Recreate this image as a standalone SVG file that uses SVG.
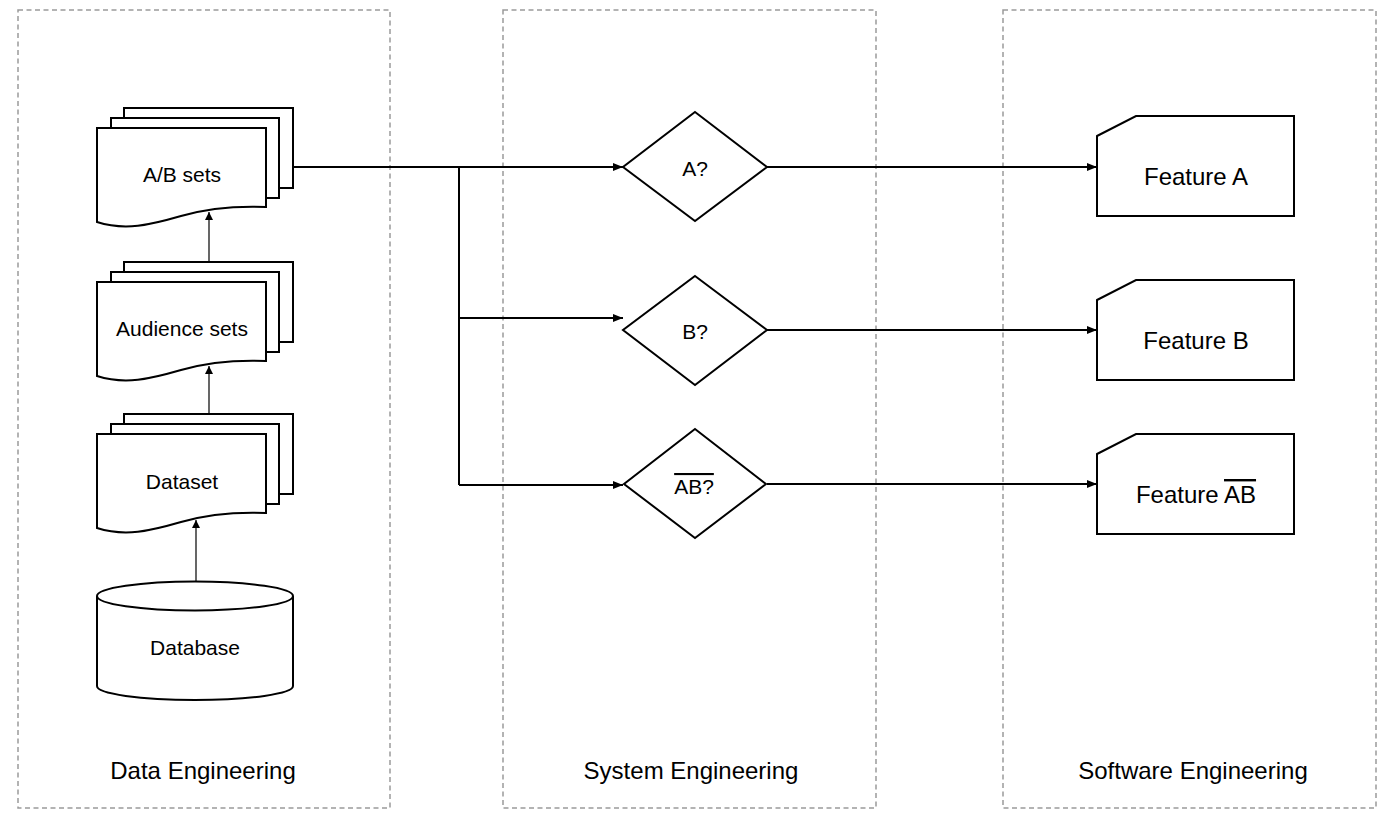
<svg xmlns="http://www.w3.org/2000/svg" width="1400" height="818" viewBox="0 0 1400 818">
<style>
.lane{fill:none;stroke:#9a9a9a;stroke-width:1.5;stroke-dasharray:5 3.5}
.shape{fill:#fff;stroke:#000;stroke-width:2}
.lbl{font-family:"Liberation Sans",Arial,sans-serif;font-size:21px;fill:#000;text-anchor:middle}
.big{font-size:24px}
.conn{fill:none;stroke:#000;stroke-width:2}
.thin{fill:none;stroke:#000;stroke-width:1.2}
.ov{text-decoration:overline}
</style>
<defs>
<marker id="ah" viewBox="0 0 10 8" refX="10" refY="4" markerWidth="10" markerHeight="8" markerUnits="userSpaceOnUse" orient="auto">
<path d="M0,0 L10,4 L0,8 Z" fill="#000"/>
</marker>
<marker id="ahs" viewBox="0 0 8 8" refX="8" refY="4" markerWidth="8" markerHeight="8" markerUnits="userSpaceOnUse" orient="auto">
<path d="M0,0 L8,4 L0,8 Z" fill="#000"/>
</marker>
</defs>
<rect width="1400" height="818" fill="#fff"/>

<g id="lanes">
<g id="lane-data"><rect class="lane" x="18" y="10" width="372" height="798"/><text class="lbl big" x="203" y="779">Data Engineering</text></g>
<g id="lane-system"><rect class="lane" x="503" y="10" width="373" height="798"/><text class="lbl big" x="691" y="779">System Engineering</text></g>
<g id="lane-software"><rect class="lane" x="1003" y="10" width="373" height="798"/><text class="lbl big" x="1193" y="779">Software Engineering</text></g>
</g>

<g id="connectors">
<path class="conn" d="M293,167 H459 V485"/>
<path class="conn" marker-end="url(#ah)" d="M459,167 H623"/>
<path class="conn" marker-end="url(#ah)" d="M459,318 H623"/>
<path class="conn" marker-end="url(#ah)" d="M459,485 H623"/>
<path class="conn" marker-end="url(#ah)" d="M767,167 H1097"/>
<path class="conn" marker-end="url(#ah)" d="M767,330 H1097"/>
<path class="conn" marker-end="url(#ah)" d="M767,484 H1097"/>
<path class="thin" marker-end="url(#ahs)" d="M209,262 V212"/>
<path class="thin" marker-end="url(#ahs)" d="M209,414 V366"/>
<path class="thin" marker-end="url(#ahs)" d="M196,582 V520"/>
</g>

<g id="ab-sets">
<rect class="shape" x="124" y="108" width="169" height="80"/>
<rect class="shape" x="111" y="118" width="168" height="80"/>
<path class="shape" d="M97,222 C125,231 150,225 181,216 S240,206 266,207 V128 H97 Z"/>
<text class="lbl" x="182" y="182">A/B sets</text>
</g>

<g id="audience-sets">
<rect class="shape" x="124" y="262" width="169" height="80"/>
<rect class="shape" x="111" y="272" width="168" height="80"/>
<path class="shape" d="M97,376 C125,385 150,379 181,370 S240,360 266,361 V282 H97 Z"/>
<text class="lbl" x="182" y="336">Audience sets</text>
</g>

<g id="dataset">
<rect class="shape" x="124" y="414" width="169" height="80"/>
<rect class="shape" x="111" y="424" width="168" height="80"/>
<path class="shape" d="M97,528 C125,537 150,531 181,522 S240,512 266,513 V434 H97 Z"/>
<text class="lbl" x="182" y="489">Dataset</text>
</g>

<g id="database">
<path class="shape" d="M97,596 V686 A98,14 0 0 0 293,686 V596"/>
<ellipse class="shape" cx="195" cy="596" rx="98" ry="14.5"/>
<text class="lbl" x="195" y="655">Database</text>
</g>

<g id="dec-a">
<polygon class="shape" points="695,112 767,167 695,221 623,167"/>
<text class="lbl" x="695" y="176">A?</text>
</g>
<g id="dec-b">
<polygon class="shape" points="695,276 767,330 695,385 623,330"/>
<text class="lbl" x="695" y="339">B?</text>
</g>
<g id="dec-ab">
<polygon class="shape" points="695,429 766,484 695,538 624,484"/>
<text class="lbl ov" x="694" y="494">AB?</text>
</g>

<g id="feature-a">
<polygon class="shape" points="1097,136 1136,116 1294,116 1294,216 1097,216"/>
<text class="lbl big" x="1196" y="185">Feature A</text>
</g>
<g id="feature-b">
<polygon class="shape" points="1097,300 1136,280 1294,280 1294,380 1097,380"/>
<text class="lbl big" x="1196" y="349">Feature B</text>
</g>
<g id="feature-ab">
<polygon class="shape" points="1097,454 1136,434 1294,434 1294,534 1097,534"/>
<text class="lbl big" x="1196" y="503">Feature <tspan class="ov">AB</tspan></text>
</g>
</svg>
